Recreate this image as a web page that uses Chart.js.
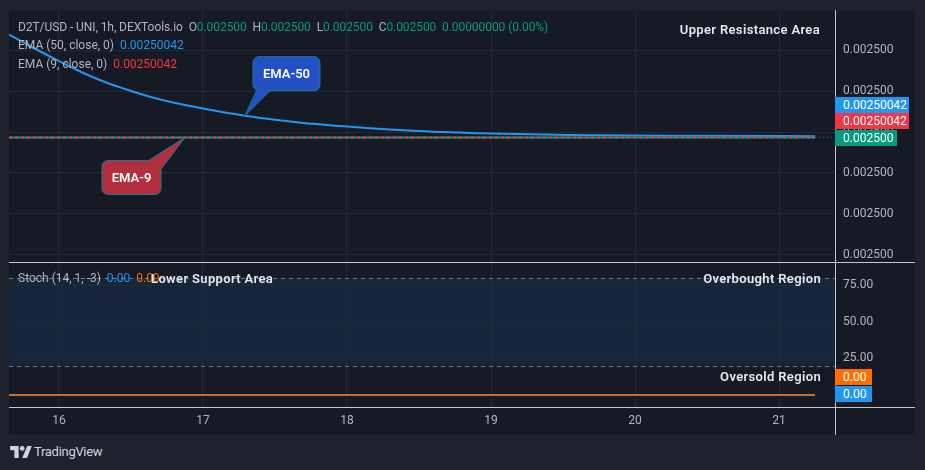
<!DOCTYPE html>
<html lang="en">
<head>
<meta charset="UTF-8">
<title>D2T/USD - UNI, 1h</title>
<script src="https://cdn.jsdelivr.net/npm/chart.js"></script>
<style>
  body { margin: 0; background: #1e222d; font-family: Roboto, "Noto Sans", sans-serif; }
  #wrap { position: relative; width: 925px; height: 470px; overflow: hidden; background: #1e222d; }
  #panel { position: absolute; left: 9px; top: 10px; width: 906px; height: 425px; background: #161a25; }
  #topBox { position: absolute; left: 9px; top: 10px; width: 906px; height: 252px; }
  #botBox { position: absolute; left: 9px; top: 262px; width: 906px; height: 173px; }
  .line { position: absolute; background: #c4c6cc; }
  .txt { position: absolute; font-size: 12px; line-height: 14px; color: #b2b5be; white-space: nowrap; }
  .note { position: absolute; font-size: 13px; line-height: 16px; color: #e6e8ee; font-weight: 600; white-space: nowrap; letter-spacing: 0.35px; }
  .tag { position: absolute; height: 16px; line-height: 16px; font-size: 12px; color: #fff; padding-left: 8px; box-sizing: border-box; }
  .g { color: #089981; }
  .b { color: #2196f3; }
  .r { color: #f23645; }
  .o { color: #ff6d00; }
</style>
</head>
<body>
<div id="wrap">
  <div id="panel"></div>
  <div id="topBox"><canvas id="priceChart"></canvas></div>
  <div id="botBox"><canvas id="stochChart"></canvas></div>

  <!-- pane separators and axis lines -->
  <div class="line" style="left:835px; top:10px; width:1px; height:425px;"></div>
  <div class="line" style="left:9px; top:262px; width:906px; height:1px;"></div>
  <div class="line" style="left:9px; top:407px; width:906px; height:1px;"></div>

  <!-- legends -->
  <div class="txt" style="left:18px; top:20px; letter-spacing:-0.07px;">D2T/USD - UNI, 1h, DEXTools.io&nbsp; O<span class="g">0.002500</span>&nbsp; H<span class="g">0.002500</span>&nbsp; L<span class="g">0.002500</span>&nbsp; C<span class="g">0.002500</span>&nbsp; <span class="g">0.00000000 (0.00%)</span></div>
  <div class="txt" style="left:18px; top:38px;">EMA (50, close, 0)&nbsp; <span class="b">0.00250042</span></div>
  <div class="txt" style="left:18px; top:57px;">EMA (9, close, 0)&nbsp; <span class="r">0.00250042</span></div>
  <div class="txt" style="left:18px; top:271px;">Stoch (14, 1, -3)&nbsp; <span class="b">0.00</span>&nbsp; <span class="o">0.00</span></div>

  <!-- annotations -->
  <div class="note" style="right:105px; top:22px;">Upper Resistance Area</div>
  <div class="note" style="left:151px; top:271px;">Lower Support Area</div>
  <div class="note" style="right:104px; top:271px;">Overbought Region</div>
  <div class="note" style="right:104px; top:369px;">Oversold Region</div>

  <!-- last value tags -->
  <div class="tag" style="left:835px; top:97px; width:74px; background:#2196f3;">0.00250042</div>
  <div class="tag" style="left:835px; top:113px; width:74px; background:#f23645;">0.00250042</div>
  <div class="tag" style="left:835px; top:130px; width:62px; background:#089981;">0.002500</div>
  <div class="tag" style="left:835px; top:369px; width:37px; background:#ff6d00;">0.00</div>
  <div class="tag" style="left:835px; top:386px; width:37px; background:#2196f3;">0.00</div>

  <!-- footer -->
  <svg style="position:absolute; left:10px; top:446px;" width="22" height="12" viewBox="0 0 36 20">
    <path d="M14 20H7V7H0V0h14v20zM28 20h-8L28.5 0h7.5L28 20z" fill="#d1d4dc"/>
    <circle cx="20" cy="4" r="4" fill="#d1d4dc"/>
  </svg>
  <div class="txt" style="left:34px; top:445px; font-size:13px; color:#d1d4dc; letter-spacing:-0.3px;">TradingView</div>
</div>

<script>
// time axis: hours from the start of day 16
const xMin = -8.33, xMax = 129.33;
const xTickHours = [0, 24, 48, 72, 96, 120];
const xTickLabels = ['16', '17', '18', '19', '20', '21'];

// price pane
const priceTicks = [0.0025002, 0.0025001, 0.0025000, 0.0024999, 0.0024998, 0.0024997];
const emaHours = [-8.33, -5, -1, 3, 7, 11, 15, 19, 24, 31, 40, 48, 60, 72, 85, 107, 126];
const ema50 = [0.0025002378, 0.0025002110, 0.0025001805, 0.0025001512, 0.0025001256, 0.0025001049,
               0.0025000866, 0.0025000720, 0.0025000573, 0.0025000398, 0.0025000232, 0.0025000134,
               0.0025000024, 0.0024999963, 0.0024999927, 0.0024999907, 0.0024999898];
const closeHours = [-8.33, 126];
const closeValues = [0.0024999866, 0.0024999866];
const ema9 = [0.0024999866, 0.0024999866];
const lastPriceHours = [126, 129.33];
const lastPriceValues = [0.0024999866, 0.0024999866];

// stochastic pane
const stochTicks = [75, 50, 25];
const stochHours = [-8.33, 126];
const stochK = [0, 0];
const stochD = [0, 0];
const overbought = 80, oversold = 20;

const gridColor = '#242834';
const tickFont = { family: 'Roboto, "Noto Sans", sans-serif', size: 12 };

function pts(xs, ys) {
    return xs.map((x, i) => ({ x: x, y: ys[i] }));
}

function lineSet(xs, ys, color, width, dash) {
    return {
        data: pts(xs, ys),
        borderColor: color,
        borderWidth: width,
        borderDash: dash || [],
        pointRadius: 0,
        cubicInterpolationMode: 'monotone',
        fill: false
    };
}

// speech bubble callouts pointing at the lines
function bubble(ctx, box, tip, baseA, baseB, fillColor, label) {
    ctx.save();
    ctx.fillStyle = fillColor;
    ctx.strokeStyle = '#1f7a8c';
    ctx.lineWidth = 1;
    ctx.beginPath();
    ctx.roundRect(box.x, box.y, box.w, box.h, 6);
    ctx.fill();
    ctx.stroke();
    ctx.beginPath();
    ctx.moveTo(baseA.x, baseA.y);
    ctx.lineTo(tip.x, tip.y);
    ctx.lineTo(baseB.x, baseB.y);
    ctx.closePath();
    ctx.fill();
    ctx.beginPath();
    ctx.moveTo(baseA.x, baseA.y);
    ctx.lineTo(tip.x, tip.y);
    ctx.lineTo(baseB.x, baseB.y);
    ctx.stroke();
    ctx.fillStyle = '#ffffff';
    ctx.font = '600 13px Roboto, "Noto Sans", sans-serif';
    ctx.textAlign = 'center';
    ctx.textBaseline = 'middle';
    ctx.fillText(label, box.x + box.w / 2, box.y + box.h / 2 + 1);
    ctx.restore();
}

const calloutPlugin = {
    id: 'callouts',
    afterDatasetsDraw(chart) {
        const x = chart.scales.x, y = chart.scales.y, ctx = chart.ctx;
        // EMA-50 bubble
        const t1 = { x: x.getPixelForValue(emaHours[9]), y: y.getPixelForValue(ema50[9]) };
        const b1 = { x: t1.x + 8, y: t1.y - 59, w: 67, h: 34 };
        bubble(ctx, b1, t1, { x: b1.x + 4, y: b1.y + b1.h - 1 }, { x: b1.x + 18, y: b1.y + b1.h - 1 }, '#2350c4', 'EMA-50');
        // EMA-9 bubble
        const t2 = { x: x.getPixelForValue(21), y: y.getPixelForValue(ema9[0]) };
        const b2 = { x: t2.x - 83, y: t2.y + 23, w: 59, h: 34 };
        bubble(ctx, b2, t2, { x: b2.x + b2.w - 14, y: b2.y + 1 }, { x: b2.x + b2.w - 1, y: b2.y + 10 }, '#b22e3e', 'EMA-9');
    }
};

const bandPlugin = {
    id: 'band',
    beforeDraw(chart) {
        const y = chart.scales.y, a = chart.chartArea, ctx = chart.ctx;
        const top = y.getPixelForValue(overbought), bot = y.getPixelForValue(oversold);
        ctx.save();
        ctx.fillStyle = 'rgba(33,150,243,0.1)';
        ctx.fillRect(a.left, top, a.right - a.left, bot - top);
        ctx.restore();
    },
    afterDatasetsDraw(chart) {
        const y = chart.scales.y, a = chart.chartArea, ctx = chart.ctx;
        ctx.save();
        ctx.strokeStyle = '#787b86';
        ctx.lineWidth = 1;
        ctx.setLineDash([4, 4]);
        [overbought, oversold].forEach(v => {
            const py = Math.round(y.getPixelForValue(v)) + 0.5;
            ctx.beginPath();
            ctx.moveTo(a.left, py);
            ctx.lineTo(a.right, py);
            ctx.stroke();
        });
        ctx.restore();
    }
};

// no extra padding for edge labels, the panes fill their boxes exactly
function noPad(axis) {
    axis.paddingTop = 0;
    axis.paddingBottom = 0;
    axis.paddingLeft = 0;
    axis.paddingRight = 0;
}

function xScale(showLabels) {
    return {
        type: 'linear',
        min: xMin,
        max: xMax,
        afterBuildTicks: axis => { axis.ticks = xTickHours.map(v => ({ value: v })); },
        afterFit: axis => { axis.height = showLabels ? 28 : 0; noPad(axis); },
        grid: { color: gridColor, drawTicks: false },
        border: { display: false },
        ticks: {
            display: showLabels,
            color: '#b2b5be',
            font: tickFont,
            padding: 7,
            maxRotation: 0,
            callback: v => xTickLabels[xTickHours.indexOf(v)]
        }
    };
}

function yScale(min, max, tickValues, digits) {
    return {
        position: 'right',
        min: min,
        max: max,
        afterBuildTicks: axis => { axis.ticks = tickValues.map(v => ({ value: v })); },
        afterFit: axis => { axis.width = 80; noPad(axis); },
        grid: { color: gridColor, drawTicks: false },
        border: { display: false },
        ticks: { color: '#b2b5be', font: tickFont, padding: 8, callback: v => v.toFixed(digits) }
    };
}

new Chart(document.getElementById('priceChart'), {
    type: 'line',
    data: {
        datasets: [
            lineSet(closeHours, ema9, '#f23645', 2, [3, 3]),
            lineSet(closeHours, closeValues, '#089981', 2),
            lineSet(emaHours, ema50, '#2196f3', 2),
            lineSet(lastPriceHours, lastPriceValues, '#089981', 1, [1, 3])
        ]
    },
    options: {
        responsive: true,
        maintainAspectRatio: false,
        animation: false,
        layout: { padding: 0 },
        plugins: { legend: { display: false }, tooltip: { enabled: false } },
        scales: {
            x: xScale(false),
            y: yScale(0.0024996829, 0.0025002976, priceTicks, 6)
        }
    },
    plugins: [calloutPlugin]
});

new Chart(document.getElementById('stochChart'), {
    type: 'line',
    data: {
        datasets: [
            lineSet(stochHours, stochD, '#ff6d00', 1.5),
            lineSet(stochHours, stochK, '#2196f3', 1.5)
        ]
    },
    options: {
        responsive: true,
        maintainAspectRatio: false,
        animation: false,
        layout: { padding: 0 },
        plugins: { legend: { display: false }, tooltip: { enabled: false } },
        scales: {
            x: xScale(true),
            y: yScale(-8.2, 90.7, stochTicks, 2)
        }
    },
    plugins: [bandPlugin]
});
</script>
</body>
</html>
